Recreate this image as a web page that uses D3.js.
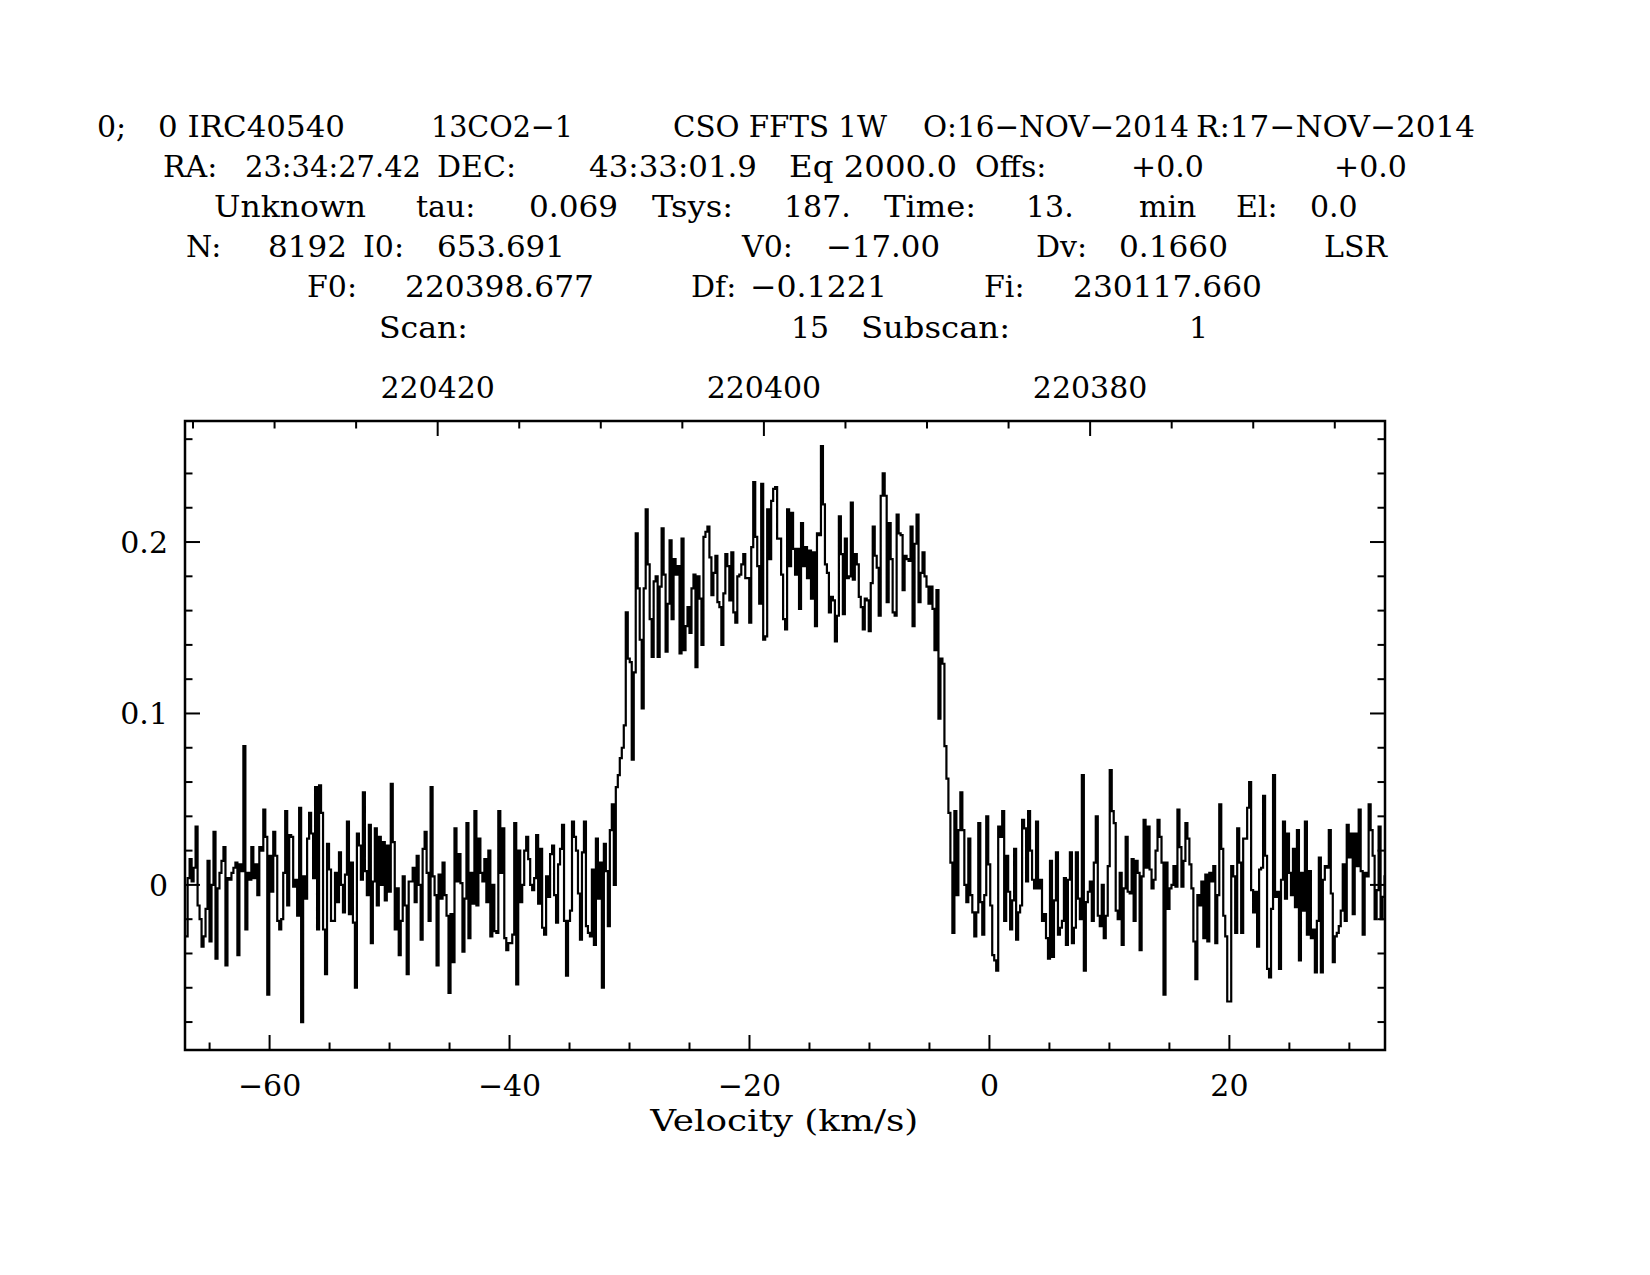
<!DOCTYPE html>
<html><head><meta charset="utf-8">
<script src="https://cdn.jsdelivr.net/npm/d3@7"></script>
<style>
body{margin:0;background:#fff}
svg{display:block;background:#fff}
text{font-family:"DejaVu Serif",serif;fill:#000}
</style>
</head><body>
<svg id="chart" width="1650" height="1275"></svg>
<script>
// ---------------- header / calibration data ----------------
const headerLine1 = ["0;", "0 IRC40540", "13CO2\u22121", "CSO FFTS 1W", "O:16\u2212NOV\u22122014", "R:17\u2212NOV\u22122014"];
const headerLine2 = ["RA:", "23:34:27.42", "DEC:", "43:33:01.9", "Eq 2000.0", "Offs:", "+0.0", "+0.0"];
const headerLine3 = ["Unknown", "tau:", "0.069", "Tsys:", "187.", "Time:", "13.", "min", "El:", "0.0"];
const headerLine4 = ["N:", "8192", "I0:", "653.691", "V0:", "\u221217.00", "Dv:", "0.1660", "LSR"];
const headerLine5 = ["F0:", "220398.677", "Df:", "\u22120.1221", "Fi:", "230117.660"];
const headerLine6 = ["Scan:", "15", "Subscan:", "1"];

const refChannel = 653.691;      // I0
const refVelocity = -17.00;      // V0 (km/s)
const chanVelocity = 0.1660;     // Dv (km/s)
const refFrequency = 220398.677; // F0 (MHz)
const chanFrequency = -0.1221;   // Df (MHz)
const firstChannel = 353;

const velocityDomain = [-67.05, 32.97];
const intensityDomain = [-0.0963, 0.2706];
const velocityMajorTicks = [-60, -40, -20, 0, 20];
const intensityMajorTicks = [0, 0.1, 0.2];
const intensityTickLabels = ["0", "0.1", "0.2"];
const frequencyMajorTicks = [220380, 220400, 220420];
const xAxisTitle = "Velocity (km/s)";

// intensity per channel (K), channels 353 .. 955
const intensity = [
 -0.030, 0.004, 0.015, 0.002, 0.010, 0.034,-0.012,-0.020,-0.036,-0.030,
 -0.014, 0.014,-0.033, 0.000, 0.031,-0.043,-0.002, 0.007, 0.014, 0.022,
 -0.047, 0.004, 0.003, 0.007, 0.010, 0.013,-0.041, 0.012, 0.008, 0.081,
 -0.026, 0.007, 0.003, 0.022, 0.004, 0.012,-0.006, 0.022, 0.020, 0.044,
  0.028,-0.064, 0.017,-0.004, 0.031, 0.017,-0.021,-0.026,-0.020, 0.007,
  0.043,-0.012, 0.029, 0.028,-0.001, 0.003,-0.018, 0.045,-0.080, 0.005,
 -0.008, 0.027, 0.042, 0.030, 0.004, 0.057,-0.026, 0.058, 0.042,-0.026,
 -0.052, 0.024, 0.009,-0.021,-0.021, 0.007,-0.010, 0.019,
  0.000,-0.016, 0.006, 0.037,-0.017, 0.013,-0.022,-0.060, 0.030, 0.023,
  0.003, 0.054, 0.008,-0.006, 0.035,-0.034, 0.002, 0.033,-0.012, 0.028,
  0.000, 0.025,-0.009, 0.023,-0.004, 0.059, 0.025,-0.026,-0.002,-0.041,
 -0.021, 0.005,-0.012,-0.052, 0.002, 0.002, 0.010,-0.010, 0.017, 0.000,
 -0.032, 0.021, 0.031, 0.007,-0.021, 0.057, 0.005,-0.006,-0.047, 0.006,
 -0.008, 0.013,-0.006,-0.018,-0.063,-0.017,-0.045, 0.033, 0.002, 0.018,
  0.001,-0.039,-0.008, 0.036,-0.031, 0.007,-0.011, 0.043,-0.012, 0.027,
  0.007, 0.002, 0.015,-0.010, 0.020,
 -0.030, 0.000,-0.027,-0.028, 0.043, 0.007, 0.033,-0.031,-0.038,-0.034,
 -0.034,-0.029, 0.036,-0.058, 0.020,-0.010, 0.000, 0.020, 0.028, 0.015,
  0.000,-0.003, 0.004, 0.029,-0.011, 0.021,-0.025,-0.029, 0.005,-0.007,
  0.018, 0.023,-0.006,-0.022, 0.012, 0.021, 0.035,-0.021,-0.053,-0.021,
 -0.015, 0.037, 0.028, 0.020,-0.005,-0.032, 0.019, 0.037,-0.024,-0.028,
 -0.030, 0.009,-0.035, 0.027,-0.008, 0.013,-0.060, 0.024, 0.008,-0.024,
  0.032, 0.047, 0.000, 0.057, 0.064, 0.074, 0.080, 0.093, 0.159, 0.132,
  0.130, 0.073, 0.124, 0.205, 0.173, 0.143, 0.103, 0.173, 0.219, 0.187,
  0.155, 0.133, 0.177, 0.180, 0.133, 0.174, 0.208, 0.181, 0.136, 0.164,
  0.201, 0.155, 0.190, 0.181, 0.186, 0.135, 0.202, 0.137, 0.151, 0.162,
  0.147, 0.173, 0.181, 0.127, 0.180, 0.167, 0.140, 0.203, 0.206, 0.209,
  0.191, 0.169, 0.182, 0.192, 0.165, 0.162, 0.140, 0.170, 0.193, 0.186,
  0.166, 0.194, 0.159, 0.153, 0.180, 0.181, 0.187, 0.193, 0.179, 0.179,
  0.153, 0.197, 0.235, 0.203, 0.186, 0.164, 0.234, 0.143, 0.145, 0.219,
  0.190, 0.224, 0.231, 0.232, 0.202, 0.202, 0.181, 0.155, 0.149, 0.219,
  0.186,
  0.217, 0.196, 0.181, 0.196, 0.161, 0.211, 0.186, 0.197, 0.179, 0.195,
  0.167, 0.194, 0.151, 0.205, 0.204, 0.256, 0.222, 0.187, 0.182, 0.159,
  0.168, 0.166, 0.142, 0.157, 0.215, 0.193, 0.158, 0.202, 0.179, 0.180,
  0.223, 0.178, 0.193, 0.187, 0.168, 0.162, 0.149, 0.167, 0.166, 0.148,
  0.176, 0.209, 0.192, 0.185, 0.157, 0.227, 0.240, 0.227, 0.165, 0.211,
  0.190, 0.159, 0.157, 0.216, 0.205, 0.204, 0.172, 0.192, 0.190, 0.189,
  0.209, 0.151, 0.199, 0.216, 0.165, 0.182, 0.194, 0.180, 0.174, 0.164,
  0.174, 0.161, 0.137, 0.172, 0.097, 0.132, 0.129, 0.081, 0.062, 0.042,
  0.013,
 -0.028, 0.043,-0.006, 0.032, 0.054, 0.032, 0.000,-0.010, 0.027,-0.006,
 -0.016,-0.030,-0.016, 0.036,-0.010,-0.029,-0.006, 0.040, 0.012,-0.012,
 -0.041,-0.044,-0.050, 0.034, 0.028, 0.043,-0.021, 0.017,-0.004,-0.026,
 -0.009, 0.021,-0.032,-0.016,-0.012, 0.038, 0.033, 0.002, 0.043, 0.020,
  0.003,-0.002, 0.037,-0.002, 0.003,-0.021,-0.017,-0.031,-0.043, 0.014,
 -0.042,-0.009, 0.019,-0.029,-0.025,-0.021, 0.004,-0.035, 0.003, 0.019,
 -0.034,-0.025, 0.019,-0.008,-0.020, 0.064,-0.050,-0.010,-0.004, 0.002,
 -0.021, 0.013, 0.040,-0.018,-0.024, 0.000,-0.031,-0.018, 0.011, 0.067,
  0.043, 0.036,-0.015,-0.020, 0.007,-0.035,-0.002, 0.028,-0.004,-0.005,
  0.015,-0.021, 0.014, 0.007,-0.038, 0.005, 0.038, 0.010, 0.034, 0.009,
 -0.002, 0.003, 0.020, 0.038, 0.028, 0.013,-0.064, 0.013,-0.014,-0.002,
  0.000, 0.011,-0.001, 0.044, 0.022,-0.001, 0.014, 0.036, 0.027, 0.012,
 -0.002,-0.033,-0.055,-0.006,-0.012, 0.002,-0.031, 0.006,-0.033, 0.007,
  0.002, 0.011,-0.034,-0.006, 0.047, 0.021,-0.018,-0.030,-0.068,-0.068,
  0.011, 0.005,-0.028, 0.033, 0.013,-0.028,
  0.027, 0.027, 0.045, 0.060,-0.003,-0.016,-0.004,-0.036, 0.009, 0.010,
  0.052, 0.017,-0.049,-0.054,-0.014, 0.064,-0.007,-0.004,-0.049, 0.003,
  0.037,-0.008, 0.030, 0.007,-0.006, 0.021,-0.013, 0.032,-0.044, 0.007,
 -0.015, 0.037,-0.029, 0.008,-0.031,-0.026,-0.051,-0.021, 0.016,-0.051,
  0.003, 0.011, 0.010, 0.032,-0.005,-0.045,-0.030,-0.028,-0.024,-0.015,
  0.012,-0.021, 0.035, 0.016, 0.030,-0.017, 0.030, 0.011, 0.044, 0.008,
 -0.029, 0.007, 0.005, 0.047, 0.032, 0.017,-0.020,-0.003, 0.034,-0.020,
 -0.007, 0.005
];

// ---------------- drawing ----------------
const svg = d3.select("#chart");
const frame = {left: 185, right: 1385, top: 421, bottom: 1050};
const x = d3.scaleLinear().domain(velocityDomain).range([frame.left, frame.right]);
const y = d3.scaleLinear().domain(intensityDomain).range([frame.bottom, frame.top]);

const velToFreq = v => refFrequency + (v - refVelocity) * chanFrequency / chanVelocity;
const xf = d3.scaleLinear().domain(velocityDomain.map(velToFreq)).range([frame.left, frame.right]);

// header text layout: x start and (optional) rendered width per item
const headerLayout = [
  {items: headerLine1, y: 137, xs: [97, 158, 431, 673, 923, 1196],
   ws: [0, 187, 142, 214, 266, 279]},
  {items: headerLine2, y: 177, xs: [163, 245, 437, 589, 789, 975, 1131, 1334],
   ws: [0, 176, 0, 168, 168, 0, 0, 0]},
  {items: headerLine3, y: 217, xs: [214, 416, 529, 652, 784, 884, 1026, 1139, 1236, 1310],
   ws: [152, 0, 89, 81, 0, 92, 0, 0, 0, 0]},
  {items: headerLine4, y: 257, xs: [186, 268, 363, 437, 742, 826, 1036, 1119, 1324],
   ws: [0, 79, 0, 128, 0, 114, 0, 109, 0]},
  {items: headerLine5, y: 297, xs: [307, 405, 691, 750, 984, 1073],
   ws: [0, 189, 0, 137, 0, 189]},
  {items: headerLine6, y: 338, xs: [379, 791, 861, 1189],
   ws: [89, 0, 149, 0]}
];
const hdr = svg.append("g").attr("class", "header").style("font-size", "30px");
headerLayout.forEach(line => {
  const t = hdr.selectAll(null).data(line.items).enter().append("text")
    .attr("x", (d, i) => line.xs[i]).attr("y", line.y).text(d => d);
  t.filter((d, i) => line.ws[i] > 0)
    .attr("textLength", function() { return line.ws[line.items.indexOf(d3.select(this).text())]; })
    .attr("lengthAdjust", "spacingAndGlyphs");
});

// clip
svg.append("defs").append("clipPath").attr("id", "clip")
  .append("rect").attr("x", frame.left).attr("y", frame.top)
  .attr("width", frame.right - frame.left).attr("height", frame.bottom - frame.top);

// spectrum as histogram
const chanVel = k => refVelocity + (firstChannel + k - refChannel) * chanVelocity;
const stepPts = [];
intensity.forEach((t, k) => {
  const v = chanVel(k);
  stepPts.push([v - chanVelocity / 2, t]);
  stepPts.push([v + chanVelocity / 2, t]);
});
const line = d3.line().x(d => x(d[0])).y(d => y(d[1]));
svg.append("path").datum(stepPts).attr("d", line)
  .attr("clip-path", "url(#clip)")
  .attr("fill", "none").attr("stroke", "#000").attr("stroke-width", 2.2)
  .attr("stroke-linejoin", "miter");

// ticks
const tickG = svg.append("g").attr("stroke", "#000").attr("stroke-width", 2);
const majorLen = 15, minorLen = 7.5;
const eps = 1e-6;
const vMinor = d3.range(-65, 33, 5);
tickG.selectAll(null).data(vMinor).enter().append("line")
  .attr("x1", d => x(d)).attr("x2", d => x(d))
  .attr("y1", frame.bottom)
  .attr("y2", d => frame.bottom - (velocityMajorTicks.includes(d) ? majorLen : minorLen));
const fDom = xf.domain();
const fMinor = d3.range(Math.ceil(Math.min(...fDom) / 5) * 5, Math.max(...fDom), 5);
tickG.selectAll(null).data(fMinor).enter().append("line")
  .attr("x1", d => xf(d)).attr("x2", d => xf(d))
  .attr("y1", frame.top)
  .attr("y2", d => frame.top + (frequencyMajorTicks.includes(d) ? majorLen : minorLen));
const yMinor = d3.range(-0.08, 0.27, 0.02).map(d => Math.round(d * 100) / 100);
const isMajor = d => intensityMajorTicks.some(m => Math.abs(m - d) < eps);
tickG.selectAll(null).data(yMinor).enter().append("line")
  .attr("x1", frame.left).attr("x2", d => frame.left + (isMajor(d) ? majorLen : minorLen))
  .attr("y1", d => y(d)).attr("y2", d => y(d));
tickG.selectAll(null).data(yMinor).enter().append("line")
  .attr("x1", frame.right).attr("x2", d => frame.right - (isMajor(d) ? majorLen : minorLen))
  .attr("y1", d => y(d)).attr("y2", d => y(d));

// frame
svg.append("rect").attr("x", frame.left).attr("y", frame.top)
  .attr("width", frame.right - frame.left).attr("height", frame.bottom - frame.top)
  .attr("fill", "none").attr("stroke", "#000").attr("stroke-width", 2.5);

// labels
const lab = svg.append("g").style("font-size", "30px");
lab.selectAll(null).data(velocityMajorTicks).enter().append("text")
  .attr("x", d => x(d)).attr("y", 1096).attr("text-anchor", "middle")
  .text(d => d < 0 ? "\u2212" + Math.abs(d) : String(d));
lab.selectAll(null).data(intensityMajorTicks).enter().append("text")
  .attr("x", 168).attr("y", d => y(d) + 11).attr("text-anchor", "end")
  .text((d, i) => intensityTickLabels[i]);
lab.selectAll(null).data(frequencyMajorTicks).enter().append("text")
  .attr("x", d => xf(d)).attr("y", 398).attr("text-anchor", "middle")
  .text(d => d);
svg.append("text").attr("x", x(-17.1)).attr("y", 1131).attr("text-anchor", "middle")
  .attr("textLength", 268).attr("lengthAdjust", "spacingAndGlyphs")
  .style("font-size", "30px").text(xAxisTitle);
</script>
</body></html>
